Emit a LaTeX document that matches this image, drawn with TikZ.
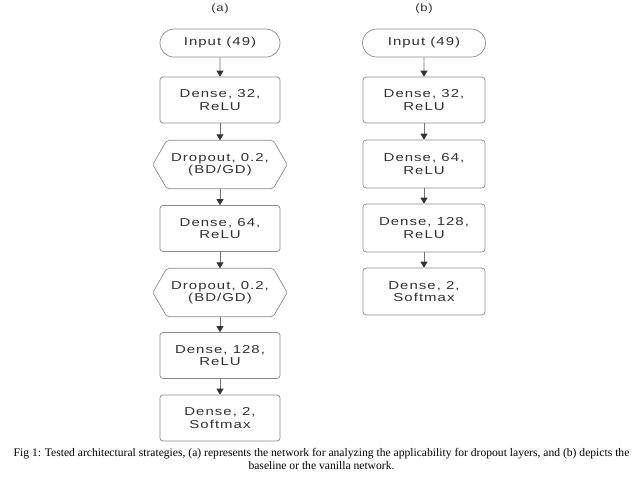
\documentclass[tikz,border=0pt]{standalone}
\usepackage{fontspec}
\setmainfont{Liberation Serif}
\newfontfamily\boxfont[FakeStretch=1.3,LetterSpace=9]{Liberation Sans}
\newfontfamily\lblfont[FakeStretch=1.25,LetterSpace=6]{Liberation Sans}
\usetikzlibrary{arrows.meta,shapes.misc}
\definecolor{edgegray}{HTML}{8A8A8A}
\definecolor{linegray}{HTML}{707070}
\definecolor{headgray}{HTML}{333333}
\definecolor{txtgray}{HTML}{303030}
\tikzset{
  x=1pt,y=-1pt,
  layer/.style={draw=edgegray,line width=0.7pt,rounded corners=3pt,minimum width=120pt,minimum height=46pt,
    align=center,font=\boxfont\fontsize{11.5}{12.5}\selectfont,text=txtgray,inner sep=0pt},
  inbox/.style={draw=edgegray,line width=0.7pt,rounded rectangle,minimum width=120pt,minimum height=28pt,
    align=center,font=\boxfont\fontsize{11.5}{12.5}\selectfont,text=txtgray,inner sep=0pt},
  hexcore/.style={minimum width=106pt,minimum height=48pt,align=center,
    font=\boxfont\fontsize{11.5}{12.5}\selectfont,text=txtgray,inner sep=0pt},
  hexline/.style={draw=edgegray,line width=0.7pt,rounded corners=2pt},
  arr/.style={draw=linegray,line width=0.7pt,-{Triangle[length=6pt,width=7pt,color=headgray]}},
  lbl/.style={font=\lblfont\fontsize{10.5}{12}\selectfont,text=txtgray},
  captext/.style={font=\fontsize{11.6}{13}\selectfont,align=center}
}
\newcommand{\hexdraw}[1]{\draw[hexline] (#1.north west) -- (#1.north east) -- ([xshift=14pt]#1.east) -- (#1.south east) -- (#1.south west) -- ([xshift=-14pt]#1.west) -- cycle;}
\begin{document}
\begin{tikzpicture}
\useasboundingbox (0,0) rectangle (643,483);
% column (a)
\node[lbl] (la) at (220,9) {(a)};
\node[inbox] (ain) at (220,43) {Input (49)};
\node[layer] (a32) at (220,100) {Dense, 32,\\ReLU};
\node[hexcore] (ah1) at (220,164.5) {Dropout, 0.2,\\(BD/GD)};
\hexdraw{ah1}
\node[layer] (a64) at (220,228.5) {Dense, 64,\\ReLU};
\node[hexcore] (ah2) at (220,292.5) {Dropout, 0.2,\\(BD/GD)};
\hexdraw{ah2}
\node[layer] (a128) at (220,355.5) {Dense, 128,\\ReLU};
\node[layer] (a2) at (220,418) {Dense, 2,\\Softmax};
\draw[arr] (ain) -- (a32);
\draw[arr] (a32) -- (ah1);
\draw[arr] (ah1) -- (a64);
\draw[arr] (a64) -- (ah2);
\draw[arr] (ah2) -- (a128);
\draw[arr] (a128) -- (a2);
% column (b)
\node[lbl] (lb) at (424,9) {(b)};
\node[inbox,minimum width=123pt] (bin) at (424,43) {Input (49)};
\node[layer,minimum width=122pt] (b32) at (424,100) {Dense, 32,\\ReLU};
\node[layer,minimum width=122pt,minimum height=48pt] (b64) at (424,164) {Dense, 64,\\ReLU};
\node[layer,minimum width=122pt,minimum height=48pt] (b128) at (424,228) {Dense, 128,\\ReLU};
\node[layer,minimum width=122pt,minimum height=47pt] (b2) at (424,291.5) {Dense, 2,\\Softmax};
\draw[arr] (bin) -- (b32);
\draw[arr] (b32) -- (b64);
\draw[arr] (b64) -- (b128);
\draw[arr] (b128) -- (b2);
% caption
\node[captext] (caption) at (321.5,458.5) {Fig 1: Tested architectural strategies, (a) represents the network for analyzing the applicability for dropout layers, and (b) depicts the\\baseline or the vanilla network.};
\end{tikzpicture}
\end{document}
